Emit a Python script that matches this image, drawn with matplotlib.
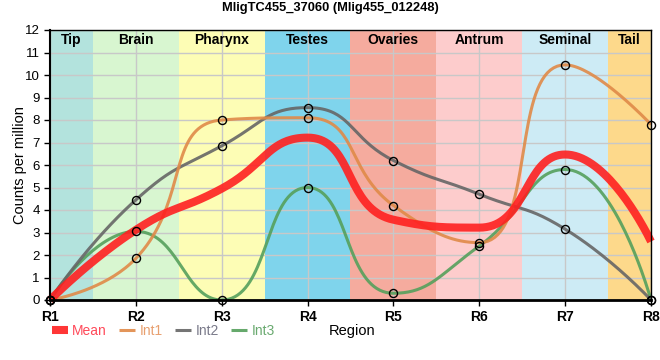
import matplotlib
matplotlib.use("Agg")
import matplotlib.pyplot as plt
import numpy as np

regions = ["R1", "R2", "R3", "R4", "R5", "R6", "R7", "R8"]
int1 = [0, 1.85, 8.0, 8.1, 4.2, 2.55, 10.45, 7.8]
int2 = [0, 4.45, 6.85, 8.55, 6.2, 4.7, 3.15, 0]
int3 = [0, 3.05, 0, 5.0, 0.3, 2.4, 5.8, 0]
mean = list(np.mean([int1, int2, int3], axis=0))

tissues = ["Tip", "Brain", "Pharynx", "Testes", "Ovaries", "Antrum", "Seminal", "Tail"]
tissue_colors = ["#b3e3dd", "#d8f6d0", "#fdfdb5", "#7fd4ec", "#f5ab9e",
                 "#fdcccc", "#cdebf5", "#fdd98b"]

# pixel scale of the plot area, smoothing is done in screen space
PX_X = 601 / 7
PX_Y = 270 / 12


def smooth_curve(xs, ys, smooth=0.5, n=40):
    """Smoothed line through the points with clamped bezier control points."""
    P = np.column_stack([np.asarray(xs, float) * PX_X, -np.asarray(ys, float) * PX_Y])
    out = [P[:1]]
    cp0 = P[0].copy()
    for i in range(1, len(P)):
        prev, p = P[i - 1], P[i]
        if i == len(P) - 1:
            cp1 = p.copy()
            nxt_cp0 = None
        else:
            nxt = P[i + 1]
            v = nxt - prev
            len0 = np.hypot(*(p - prev))
            len1 = np.hypot(*(nxt - p))
            ratio = len1 / (len0 + len1)
            ncp = p + v * smooth * ratio
            ncp = np.minimum(ncp, np.maximum(nxt, p))
            ncp = np.maximum(ncp, np.minimum(nxt, p))
            v = ncp - p
            cp1 = p - v * len0 / len1
            cp1 = np.minimum(cp1, np.maximum(prev, p))
            cp1 = np.maximum(cp1, np.minimum(prev, p))
            v = p - cp1
            nxt_cp0 = p + v * len1 / len0
        t = np.linspace(0, 1, n)[1:, None]
        seg = ((1 - t) ** 3 * prev + 3 * (1 - t) ** 2 * t * cp0
               + 3 * (1 - t) * t ** 2 * cp1 + t ** 3 * p)
        out.append(seg)
        cp0 = nxt_cp0
    pts = np.vstack(out)
    return pts[:, 0] / PX_X, -pts[:, 1] / PX_Y


plt.rcParams['font.family'] = ['Liberation Sans', 'DejaVu Sans']
fig = plt.figure(figsize=(6.6, 3.6), dpi=100)
ax = fig.add_axes([50 / 660, 1 - 300 / 360, 601 / 660, 270 / 360])

xpos = np.arange(len(regions))

# tissue bands
for i, (name, col) in enumerate(zip(tissues, tissue_colors)):
    lo = max(i - 0.5, 0)
    hi = min(i + 0.5, len(regions) - 1)
    ax.axvspan(lo, hi, color=col, zorder=0, lw=0)
    ax.text((lo + hi) / 2, 11.55, name, ha='center', va='center',
            fontsize=10, fontweight='bold', zorder=5)

ax.grid(True, color='#c8c8c8', linewidth=1, zorder=1)

# name, values, line colour, legend text colour, width, zorder, markers
series = [
    ("Mean", mean, "#ff2020", "#ff4a5a", 5.8, 4, False),
    ("Int1", int1, "#e08a48", "#e8a070", 2.2, 3, True),
    ("Int2", int2, "#666666", "#7a7a8a", 2.2, 2.8, True),
    ("Int3", int3, "#55a05c", "#6aaa70", 2.2, 2.6, True),
]

handles = []
for name, vals, col, tcol, lw, z, markers in series:
    cx, cy = smooth_curve(xpos, vals)
    line, = ax.plot(cx, cy, color=col, linewidth=lw, alpha=0.9,
                    zorder=z, solid_capstyle='butt', label=name, clip_on=False)
    handles.append(line)
    if markers:
        ax.plot(xpos, vals, 'o', markerfacecolor='none', markeredgecolor='black',
                markersize=5.8, markeredgewidth=1, zorder=6, clip_on=False)

ax.set_xlim(0, len(regions) - 1)
ax.set_ylim(0, 12)
ax.set_yticks(range(0, 13))
ax.set_xticks(xpos)
ax.set_xticklabels(regions, fontweight='bold', fontsize=10)
ax.tick_params(axis='y', labelsize=9.5, length=4, width=1)
ax.tick_params(axis='x', length=4, width=1, pad=3)

for side in ['top', 'right']:
    ax.spines[side].set_linewidth(1)
ax.spines['left'].set_linewidth(1.5)
ax.spines['bottom'].set_linewidth(2)
for sp in ax.spines.values():
    sp.set_zorder(7)

ax.set_ylabel("Counts per million", fontsize=10.5)
ax.yaxis.set_label_coords(-23 / 601, 0.5)
fig.text(352 / 660, 1 - 331 / 360, "Region", ha='center', va='center', fontsize=10.5)
fig.text(330 / 660, 1 - 8 / 360, "MligTC455_37060 (Mlig455_012248)",
         ha='center', va='center', fontsize=9.3, fontweight='bold')

leg = fig.legend(handles=handles, loc='center left', bbox_to_anchor=(52 / 660, 1 - 331 / 360),
                 ncol=4, frameon=False, fontsize=10, handlelength=1.15, handletextpad=0.3,
                 columnspacing=0.9, borderaxespad=0, borderpad=0)
for txt, s in zip(leg.get_texts(), series):
    txt.set_color(s[3])

fig.savefig("out.png", dpi=100)
